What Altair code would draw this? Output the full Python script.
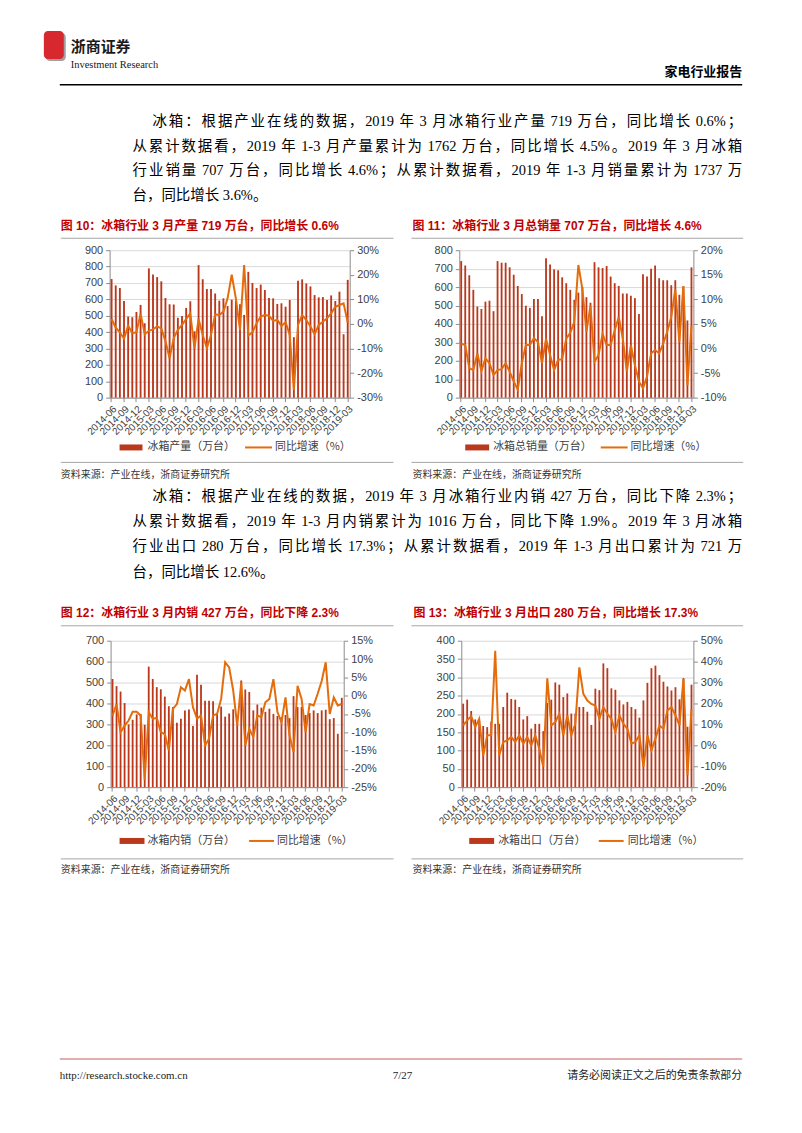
import altair as alt
import pandas as pd

# ---------------- data ----------------
months = ["2014-06", "2014-07", "2014-08", "2014-09", "2014-10", "2014-11", "2014-12",
          "2015-01", "2015-02", "2015-03", "2015-04", "2015-05", "2015-06", "2015-07", "2015-08", "2015-09", "2015-10", "2015-11", "2015-12",
          "2016-01", "2016-02", "2016-03", "2016-04", "2016-05", "2016-06", "2016-07", "2016-08", "2016-09", "2016-10", "2016-11", "2016-12",
          "2017-01", "2017-02", "2017-03", "2017-04", "2017-05", "2017-06", "2017-07", "2017-08", "2017-09", "2017-10", "2017-11", "2017-12",
          "2018-01", "2018-02", "2018-03", "2018-04", "2018-05", "2018-06", "2018-07", "2018-08", "2018-09", "2018-10", "2018-11", "2018-12",
          "2019-01", "2019-02", "2019-03"]
tick_months = ["2014-06", "2014-09", "2014-12", "2015-03", "2015-06", "2015-09", "2015-12",
               "2016-03", "2016-06", "2016-09", "2016-12", "2017-03", "2017-06", "2017-09", "2017-12",
               "2018-03", "2018-06", "2018-09", "2018-12", "2019-03"]

production = [724, 685, 669, 590, 495, 491, 523,
              566, 454, 789, 752, 736, 710, 608, 570, 568, 487, 499, 548,
              588, 405, 809, 722, 663, 663, 635, 592, 606, 560, 598, 590,
              570, 505, 768, 700, 669, 690, 657, 608, 606, 572, 576, 555,
              596, 369, 713, 722, 697, 679, 626, 612, 614, 596, 624, 590,
              647, 387, 719]
production_yoy = [2.0, -1.5, -3.4, -6.0, -0.7, -3.8, -3.4,
                  4.2, -4.2, -2.8, -2.2, -1.0, -1.8, -7.0, -14.0, -5.8, -2.4, -0.4, 2.0,
                  4.3, -9.9, 2.0, -4.5, -9.9, -4.5, 3.9, 3.6, 5.0, 10.4, 20.0, 10.4,
                  -2.4, 24.0, -4.7, -3.4, 0.3, 3.0, 3.6, 3.4, 1.2, 1.6, -0.8, 0.7,
                  -4.5, -27.0, -0.4, 3.6, 1.6, -1.0, -4.2, -0.4, 0.9, 2.3, 4.3, 7.0,
                  7.7, 8.4, 0.6]

sales = [741, 717, 664, 585, 494, 481, 521,
         526, 469, 741, 732, 732, 707, 667, 606, 562, 499, 487, 535,
         535, 442, 757, 723, 696, 691, 653, 621, 585, 531, 570, 600,
         545, 515, 735, 707, 703, 714, 657, 621, 606, 565, 565, 553,
         540, 454, 669, 657, 700, 717, 648, 637, 637, 610, 637, 558,
         603, 419, 707]
sales_yoy = [1.0, 0.7, -4.0, -4.4, -1.0, -4.6, -2.0,
             -3.0, -5.4, -4.4, -4.2, -3.0, -4.7, -6.7, -8.4, -3.0, 0.7, 0.7, 2.1,
             1.3, -3.0, 2.0, -1.3, -4.4, -2.3, -2.2, 2.0, 3.2, 5.4, 17.0, 12.1,
             3.4, 8.7, -2.7, -1.3, 3.0, 0.7, 0.7, 3.7, 6.4, 2.0, -4.7, 0.7,
             -3.4, -6.7, -8.1, -5.7, -1.0, -0.3, -1.0, 1.0, 3.4, 6.4, 12.1, 1.3,
             12.7, -7.5, 4.6]

domestic = [517, 483, 457, 402, 300, 322, 348,
            350, 298, 576, 517, 478, 468, 433, 387, 383, 308, 327, 367,
            371, 292, 537, 490, 413, 413, 411, 355, 385, 337, 352, 372,
            303, 510, 467, 455, 367, 395, 380, 360, 375, 350, 340, 335,
            345, 330, 435, 383, 383, 345, 354, 367, 354, 367, 370, 325,
            330, 255, 427]
domestic_yoy = [-5.5, -2.3, -10.0, -8.2, -6.8, -4.4, -4.4,
                -5.4, -23.0, -4.5, -6.3, -6.1, -10.0, -10.5, -15.0, -3.6, -2.3, 2.3, 1.4,
                4.5, -3.2, -6.3, -5.4, -13.6, -11.8, -5.4, -5.0, -0.9, 9.1, 7.7, 1.4,
                -8.2, 3.6, -13.6, -9.1, -11.3, -5.4, -5.9, -1.8, -0.9, 4.5, -4.5, -7.3,
                -0.5, -10.9, -15.4, 2.7, -0.9, -10.0, -2.3, -2.7, 0.5, 4.0, 9.1, -5.0,
                -0.5, -2.7, -2.3]

export = [228, 239, 208, 185, 182, 167, 164,
          179, 173, 173, 219, 258, 241, 239, 219, 185, 194, 160, 173,
          173, 153, 230, 239, 286, 280, 246, 256, 201, 201, 219, 219,
          206, 170, 269, 265, 338, 325, 270, 266, 237, 226, 233, 219,
          213, 190, 237, 285, 325, 332, 306, 288, 275, 264, 273, 240,
          298, 165, 280]
export_yoy = [9.5, 11.9, 14.0, 8.7, 12.7, -5.0, 4.8,
              4.8, 45.2, -4.8, 1.6, 2.4, 4.0, 1.6, 4.8, 0.8, 4.0, 0.0, 4.8,
              -1.6, -10.3, 32.0, 9.5, 11.1, 15.0, 4.8, 14.3, 4.8, 10.3, 37.3, 24.6,
              21.4, 19.8, 19.0, 12.7, 18.3, 15.0, 12.7, 6.3, 14.3, 10.3, 7.9, 0.8,
              1.6, 4.8, -10.3, 4.8, -2.4, 3.2, 9.5, 7.9, 16.7, 18.3, 14.3, 9.5,
              31.7, -14.3, 17.3]

para1 = ["冰箱：根据产业在线的数据，2019 年 3 月冰箱行业产量 719 万台，同比增长 0.6%；",
         "从累计数据看，2019 年 1-3 月产量累计为 1762  万台，同比增长 4.5%。2019 年 3 月冰箱",
         "行业销量 707 万台，同比增长 4.6%；从累计数据看，2019 年 1-3 月销量累计为 1737 万",
         "台，同比增长 3.6%。"]
para2 = ["冰箱：根据产业在线的数据，2019 年 3 月冰箱行业内销 427 万台，同比下降 2.3%；",
         "从累计数据看，2019 年 1-3 月内销累计为 1016  万台，同比下降 1.9%。2019 年 3 月冰箱",
         "行业出口 280 万台，同比增长 17.3%；从累计数据看，2019 年 1-3 月出口累计为 721 万",
         "台，同比增长 12.6%。"]
titles = ["图 10：冰箱行业 3 月产量 719 万台，同比增长 0.6%",
          "图 11：冰箱行业 3 月总销量 707 万台，同比增长 4.6%",
          "图 12：冰箱行业 3 月内销 427 万台，同比下降 2.3%",
          "图 13：冰箱行业 3 月出口 280 万台，同比增长 17.3%"]
bar_names = ["冰箱产量（万台）", "冰箱总销量（万台）", "冰箱内销（万台）", "冰箱出口（万台）"]
line_name = "同比增速（%）"
source = "资料来源：产业在线，浙商证券研究所"

# ---------------- style ----------------
BAR = "#BA381B"
LINE = "#E46C0A"
RED = "#C00000"
AX = "#8C8C8C"
GRID = "#D9D9D9"
SERIF = "Liberation Serif, Noto Sans CJK SC"
SANS = "Liberation Sans, Noto Sans CJK SC"
CJK = "Noto Sans CJK SC"
ONE = pd.DataFrame({"k": [0]})
FS = 14.5


def txt(s, x, y, size=14, color="#000000", font=SERIF, weight="normal", align="left"):
    return alt.Chart(ONE).mark_text(text=s, fontSize=size, color=color, font=font,
                                    fontWeight=weight, align=align, baseline="middle").encode(
        x=alt.value(x), y=alt.value(y))


def hrule(x1, x2, y, color="#A6A6A6", w=1.0):
    return alt.Chart(ONE).mark_rule(color=color, strokeWidth=w).encode(
        x=alt.value(x1), x2=alt.value(x2), y=alt.value(y))


def box(x1, x2, y1, y2, color, r=0):
    return alt.Chart(ONE).mark_rect(color=color, cornerRadius=r).encode(
        x=alt.value(x1), x2=alt.value(x2), y=alt.value(y1), y2=alt.value(y2))


def spacer(w, h):
    return alt.Chart(ONE).mark_point(opacity=0).encode(
        x=alt.value(0), y=alt.value(0)).properties(width=w, height=h)


LATW = {".": 0.25, "%": 0.833, "-": 0.333}


def lat_w(s):
    return sum(LATW.get(c, 0.5) for c in s) * FS


def layout_line(line, x0, x1, y, justify):
    toks = []
    buf, buf_sp, pend = "", False, False
    for ch in line:
        if ch == " ":
            if buf:
                toks.append((buf, lat_w(buf), buf_sp))
                buf = ""
            pend = True
        elif ord(ch) >= 0x2E80:
            if buf:
                toks.append((buf, lat_w(buf), buf_sp))
                buf = ""
            toks.append((ch, FS, pend))
            pend = False
        else:
            if not buf:
                buf_sp, pend = pend, False
            buf += ch
    if buf:
        toks.append((buf, lat_w(buf), buf_sp))
    natural = sum(t[1] for t in toks) + sum(0.25 * FS for t in toks[1:] if t[2])
    extra = (x1 - x0 - natural) / (len(toks) - 1) if justify else 0.0
    rows, x = [], x0
    for i, (t, w, sp) in enumerate(toks):
        if i > 0:
            x += extra + (0.25 * FS if sp else 0.0)
        rows.append({"x": x, "y": y, "t": t})
        x += w
    return rows


def paragraph(lines, ys):
    rows = []
    for i, (ln, yy) in enumerate(zip(lines, ys)):
        x0 = 142 if i == 0 else 122
        rows += layout_line(ln, x0, 734, yy, i < len(lines) - 1)
    return alt.Chart(pd.DataFrame(rows)).mark_text(
        align="left", baseline="middle", fontSize=FS, font=SERIF, color="#000000").encode(
        x=alt.X("x:Q", scale=None, axis=None), y=alt.Y("y:Q", scale=None, axis=None), text="t:N")


def dual(bar_vals, line_vals, bar_label, ymax, ystep, pmin, pmax, pstep, w, h, leg):
    df = pd.DataFrame({"month": months, "v": bar_vals, "p": line_vals})
    xscale = alt.Scale(paddingInner=0.55, paddingOuter=0.25)
    xaxis = alt.Axis(title=None, values=tick_months, labelAngle=-45, labelFontSize=10,
                     labelFont=SANS, labelColor="#404040", domainColor=AX, tickColor=AX,
                     tickSize=4, labelPadding=2, grid=False)
    bars = alt.Chart(df).mark_bar(color=BAR).encode(
        x=alt.X("month:O", sort=months, scale=xscale, axis=xaxis),
        y=alt.Y("v:Q", scale=alt.Scale(domain=[0, ymax], nice=False),
                axis=alt.Axis(title=None, values=list(range(0, ymax + 1, ystep)), grid=True,
                              gridColor=GRID, domainColor=AX, tickColor=AX, tickSize=4,
                              labelFont=SANS, labelFontSize=11, labelColor="#404040",
                              labelPadding=3)))
    line = alt.Chart(df).mark_line(color=LINE, strokeWidth=2).encode(
        x=alt.X("month:O", sort=months, scale=xscale, axis=xaxis, bandPosition=0.5),
        y=alt.Y("p:Q", scale=alt.Scale(domain=[pmin, pmax], nice=False),
                axis=alt.Axis(orient="right", title=None, values=list(range(pmin, pmax + 1, pstep)),
                              labelExpr="datum.value + '%'", grid=False, domainColor=AX,
                              tickColor=AX, tickSize=4, labelFont=SANS, labelFontSize=11,
                              labelColor="#404040", labelPadding=3)))
    ly, rx1, rx2, tx1, lx1, lx2, tx2 = leg
    legend = [
        box(rx1, rx2, ly - 3, ly + 3, BAR),
        txt(bar_label, tx1, ly, size=11, color="#404040", font=CJK),
        hrule(lx1, lx2, ly, LINE, 2),
        txt(line_name, tx2, ly, size=11, color="#404040", font=CJK),
    ]
    return alt.layer(bars, line, *legend).resolve_scale(y="independent").properties(width=w, height=h)


# ---------------- panels ----------------
top = alt.layer(
    box(35, 55, 23, 51, "#A0A0A0", 4),
    box(33, 53, 21, 49, "#D7282F", 4),
    txt("浙商证券", 60, 37, size=15, color="#1A1A1A", font=CJK, weight="bold"),
    txt("Investment Research", 60, 55, size=10.5, color="#1A1A1A", font=SERIF),
    txt("家电行业报告", 734, 62, size=13, color="#000000", font=CJK, weight="bold", align="right"),
    hrule(49, 734, 75, "#000000", 1.5),
    paragraph(para1, [112, 137, 162, 187]),
    txt(titles[0], 50, 217, size=12, color=RED, font=SANS, weight="bold"),
    txt(titles[1], 403, 217, size=12, color=RED, font=SANS, weight="bold"),
    hrule(50, 384, 229), hrule(402, 735, 229),
).properties(width=786, height=241)

mid = alt.layer(
    hrule(50, 384, 65), hrule(402, 735, 65),
    txt(source, 50, 78, size=10, color="#333333"),
    txt(source, 403, 78, size=10, color="#333333"),
    paragraph(para2, [100, 125, 150, 176]),
    txt(titles[2], 50, 216, size=12, color=RED, font=SANS, weight="bold"),
    txt(titles[3], 404, 216, size=12, color=RED, font=SANS, weight="bold"),
    hrule(50, 384, 229), hrule(402, 735, 229),
).properties(width=786, height=244)

bottom = alt.layer(
    hrule(50, 384, 72), hrule(402, 735, 72),
    txt(source, 50, 83, size=10, color="#333333"),
    txt(source, 403, 83, size=10, color="#333333"),
    hrule(49, 734, 273, "#D99594", 1.5),
    txt("http://research.stocke.com.cn", 49, 290, size=11, color="#222222", font=SERIF),
    txt("7/27", 393, 290, size=11, color="#222222", font=SERIF, align="center"),
    txt("请务必阅读正文之后的免责条款部分", 734, 290, size=11, color="#222222", font=SERIF, align="right"),
).properties(width=786, height=337)

c10 = dual(production, production_yoy, bar_names[0], 900, 100, -30, 30, 10, 241, 148,
           (198, 10, 33, 38, 136, 163, 166))
c11 = dual(sales, sales_yoy, bar_names[1], 800, 100, -10, 20, 5, 235, 148,
           (198, 6, 30, 34, 142, 169, 172))
c12 = dual(domestic, domestic_yoy, bar_names[2], 700, 100, -25, 15, 5, 234, 147,
           (201, 9, 34, 37, 139, 164, 167))
c13 = dual(export, export_yoy, bar_names[3], 400, 50, -20, 50, 10, 233, 147,
           (201, 8, 33, 37, 138, 163, 167))

row1 = alt.hconcat(spacer(99, 148), c10, spacer(110, 148), c11, spacing=0, bounds="flush")
row2 = alt.hconcat(spacer(100, 147), c12, spacer(118, 147), c13, spacing=0, bounds="flush")

chart = alt.vconcat(top, row1, spacer(786, 148), mid, row2, spacer(786, 147), bottom,
                    spacing=0, bounds="flush").properties(padding=0).configure_view(strokeWidth=0)

chart.save("out.html", embed_options={"renderer": "svg", "actions": False})
